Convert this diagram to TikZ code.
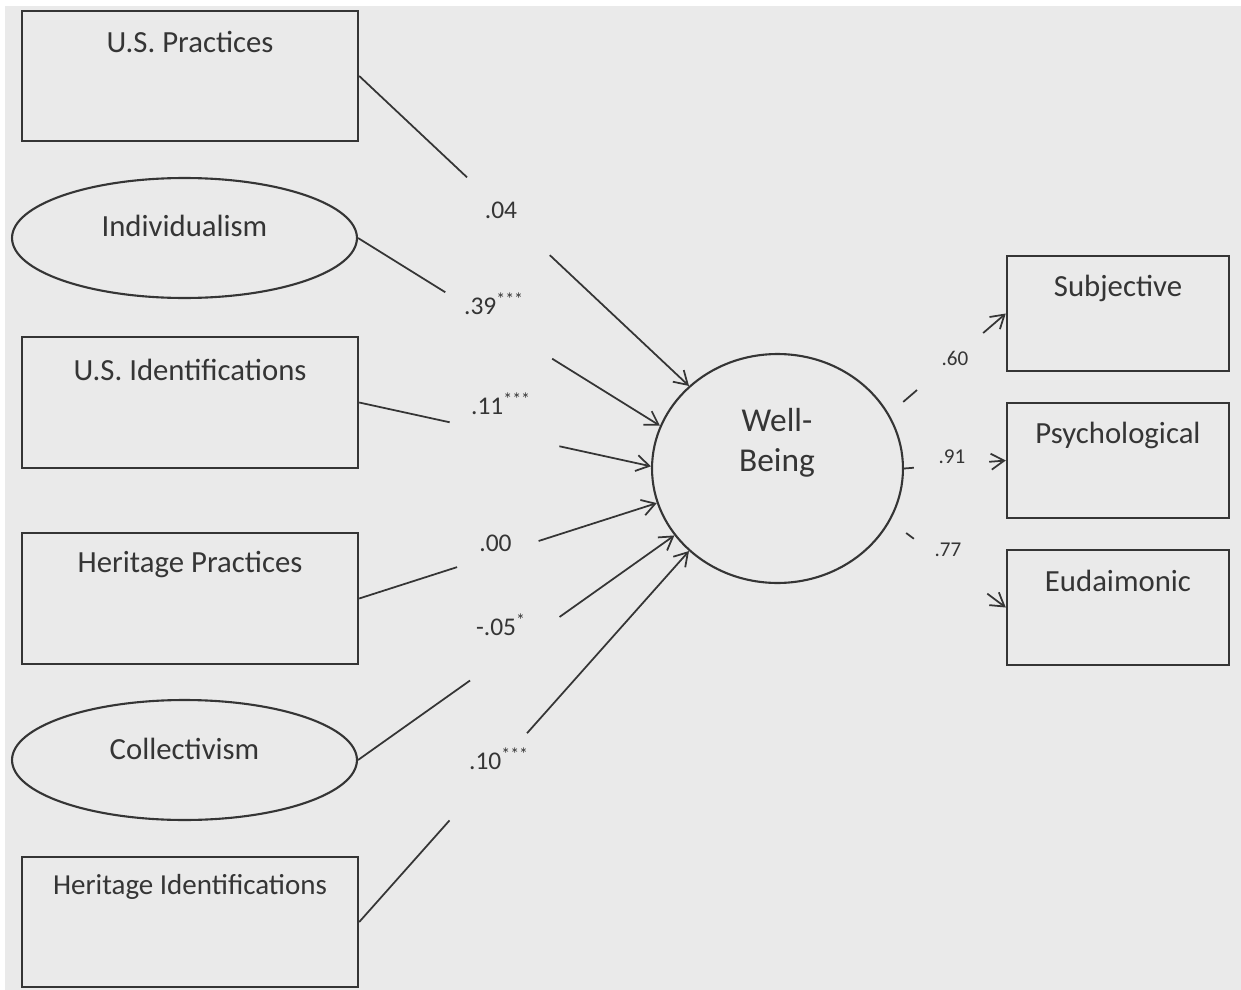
\documentclass[tikz,border=0pt]{standalone}
\usepackage{fontspec}
\setmainfont{Carlito}
\usetikzlibrary{shapes.geometric,arrows.meta,calc}
\definecolor{bgc}{HTML}{EAEAEA}
\definecolor{ink}{HTML}{353535}
\begin{document}
\begin{tikzpicture}[x=0.02cm,y=-0.02cm,
  boxnode/.style={draw=ink,line width=1.4pt,rectangle,inner sep=0pt},
  ovalnode/.style={draw=ink,line width=1.2pt,ellipse,inner sep=0pt},
  lbl/.style={text=ink,font=\fontsize{17.5}{20}\selectfont,inner sep=0pt},
  coef/.style={text=ink,font=\fontsize{14.5}{17}\selectfont,inner sep=0pt},
  coefs/.style={text=ink,font=\fontsize{12}{14}\selectfont,inner sep=0pt},
  path/.style={draw=ink,line width=1pt},
  arr/.style={draw=ink,line width=1pt,-{Straight Barb[length=2.6mm,width=3.2mm,line width=1pt]}}
]
\useasboundingbox (0,0) rectangle (1241,990);
\fill[white] (0,0) rectangle (1241,990);
\fill[bgc] (5,6) rectangle (1241,990);

% left column
\node[boxnode,minimum width=6.72cm,minimum height=2.6cm] (usp) at (190,76) {};
\node[lbl] (uspt) at (190,42) {U.S. Practices};
\node[ovalnode,minimum width=6.9cm,minimum height=2.4cm] (ind) at (184.5,238) {};
\node[lbl] (indt) at (184.5,226) {Individualism};
\node[boxnode,minimum width=6.72cm,minimum height=2.62cm] (usi) at (190,402.5) {};
\node[lbl] (usit) at (190,370) {U.S. Identifications};
\node[boxnode,minimum width=6.72cm,minimum height=2.62cm] (hp) at (190,598.5) {};
\node[lbl] (hpt) at (190,565) {Heritage Practices};
\node[ovalnode,minimum width=6.9cm,minimum height=2.4cm] (col) at (184.5,760) {};
\node[lbl] (colt) at (184.5,749) {Collectivism};
\node[boxnode,minimum width=6.72cm,minimum height=2.6cm] (hi) at (190,922) {};
\node[lbl,font=\fontsize{16.5}{19}\selectfont] (hit) at (190,887) {Heritage Identifications};

% well-being
\node[ovalnode,minimum width=5.02cm,minimum height=4.58cm] (wb) at (777.5,468.5) {};
\node[lbl,font=\fontsize{19}{22}\selectfont,align=center] (wbt) at (777,443) {Well-\\[1pt]Being};

% right column
\node[boxnode,minimum width=4.44cm,minimum height=2.3cm] (sub) at (1118,313.5) {};
\node[lbl] (subt) at (1118,288) {Subjective};
\node[boxnode,minimum width=4.44cm,minimum height=2.3cm] (psy) at (1118,460.5) {};
\node[lbl] (psyt) at (1118,435) {Psychological};
\node[boxnode,minimum width=4.44cm,minimum height=2.3cm] (eud) at (1118,607.5) {};
\node[lbl] (eudt) at (1118,581) {Eudaimonic};

% coefficient labels
\node[coef] (c1) at (501,210) {.04};
\node[coef] (c2) at (494,304) {.39\textsuperscript{***}};
\node[coef] (c3) at (501,404) {.11\textsuperscript{***}};
\node[coef] (c4) at (495.5,543) {.00};
\node[coef] (c5) at (501,625) {-.05\textsuperscript{*}};
\node[coef] (c6) at (499,759) {.10\textsuperscript{***}};
\node[coefs] (r1) at (955,358) {.60};
\node[coefs] (r2) at (952,457) {.91};
\node[coefs] (r3) at (948,550) {.77};

% left connectors (broken around labels)
\draw[path] (usp.east) -- ($(usp.east)!0.327!(wb.137)$);
\draw[arr] ($(usp.east)!0.578!(wb.137)$) -- (wb.137);
\draw[path] (ind.east) -- ($(ind.east)!0.289!(wb.160)$);
\draw[arr] ($(ind.east)!0.643!(wb.160)$) -- (wb.160);
\draw[path] (usi.east) -- ($(usi.east)!0.31!(wb.179)$);
\draw[arr] ($(usi.east)!0.686!(wb.179)$) -- (wb.179);
\draw[path] (hp.east) -- ($(hp.east)!0.329!(wb.196)$);
\draw[arr] ($(hp.east)!0.603!(wb.196)$) -- (wb.196);
\draw[path] (col.east) -- ($(col.east)!0.354!(wb.213)$);
\draw[arr] ($(col.east)!0.637!(wb.213)$) -- (wb.213);
\draw[path] (hi.east) -- ($(hi.east)!0.274!(wb.223)$);
\draw[arr] ($(hi.east)!0.509!(wb.223)$) -- (wb.223);

% right connectors (stubs detached from the circle)
\draw[path] ($(wb.26)!0.121!(sub.west)$) -- ($(wb.26)!0.239!(sub.west)$);
\draw[arr] ($(wb.26)!0.806!(sub.west)$) -- (sub.west);
\draw[path] (wb.0) -- ($(wb.0)!0.096!(psy.west)$);
\draw[arr] ($(wb.0)!0.837!(psy.west)$) -- (psy.west);
\draw[path] ($(wb.-25)!0.138!(eud.west)$) -- ($(wb.-25)!0.205!(eud.west)$);
\draw[arr] ($(wb.-25)!0.84!(eud.west)$) -- (eud.west);
\end{tikzpicture}
\end{document}
